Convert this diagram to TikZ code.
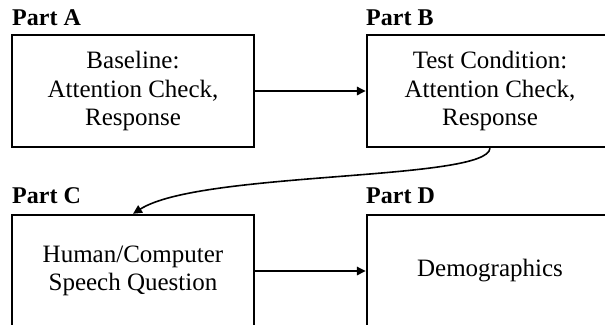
\documentclass[tikz,border=0pt]{standalone}
\usepackage{fontspec}
\setmainfont{Liberation Serif}
\usetikzlibrary{arrows.meta}
\begin{document}
\begin{tikzpicture}[x=1pt,y=1pt,
  stagebox/.style={draw=black,line width=2.4pt,rectangle,align=center,
    minimum height=112pt,inner sep=0pt,
    font=\fontsize{25}{28.5}\selectfont},
  partlabel/.style={anchor=base west,inner sep=0pt,
    font=\fontsize{24}{28}\selectfont\bfseries},
  conn/.style={line width=1.6pt,-{Triangle[length=9pt,width=8.5pt]}}]
\useasboundingbox (0,0) rectangle (605,-324);
\clip (0,0) rectangle (605,-324);
\fill[white] (0,0) rectangle (605,-324);

% the four stages
\node[stagebox,minimum width=242pt] (A) at (133,-91)
  {Baseline:\\Attention Check,\\Response};
\node[stagebox,minimum width=246pt] (B) at (490,-91)
  {Test Condition:\\Attention Check,\\Response};
\node[stagebox,minimum width=242pt] (C) at (133,-271)
  {Human/Computer\\Speech Question};
\node[stagebox,minimum width=246pt] (D) at (490,-271)
  {Demographics};

% part headings
\node[partlabel] (lA) at (12,-25) {Part A};
\node[partlabel] (lB) at (366,-25) {Part B};
\node[partlabel] (lC) at (12,-203) {Part C};
\node[partlabel] (lD) at (366,-203) {Part D};

% flow between stages
\draw[conn] (A.east) -- (B.west);
\draw[conn] (B.south) .. controls +(-2,-33) and +(67,43) .. (C.north);
\draw[conn] (C.east) -- (D.west);
\end{tikzpicture}
\end{document}
